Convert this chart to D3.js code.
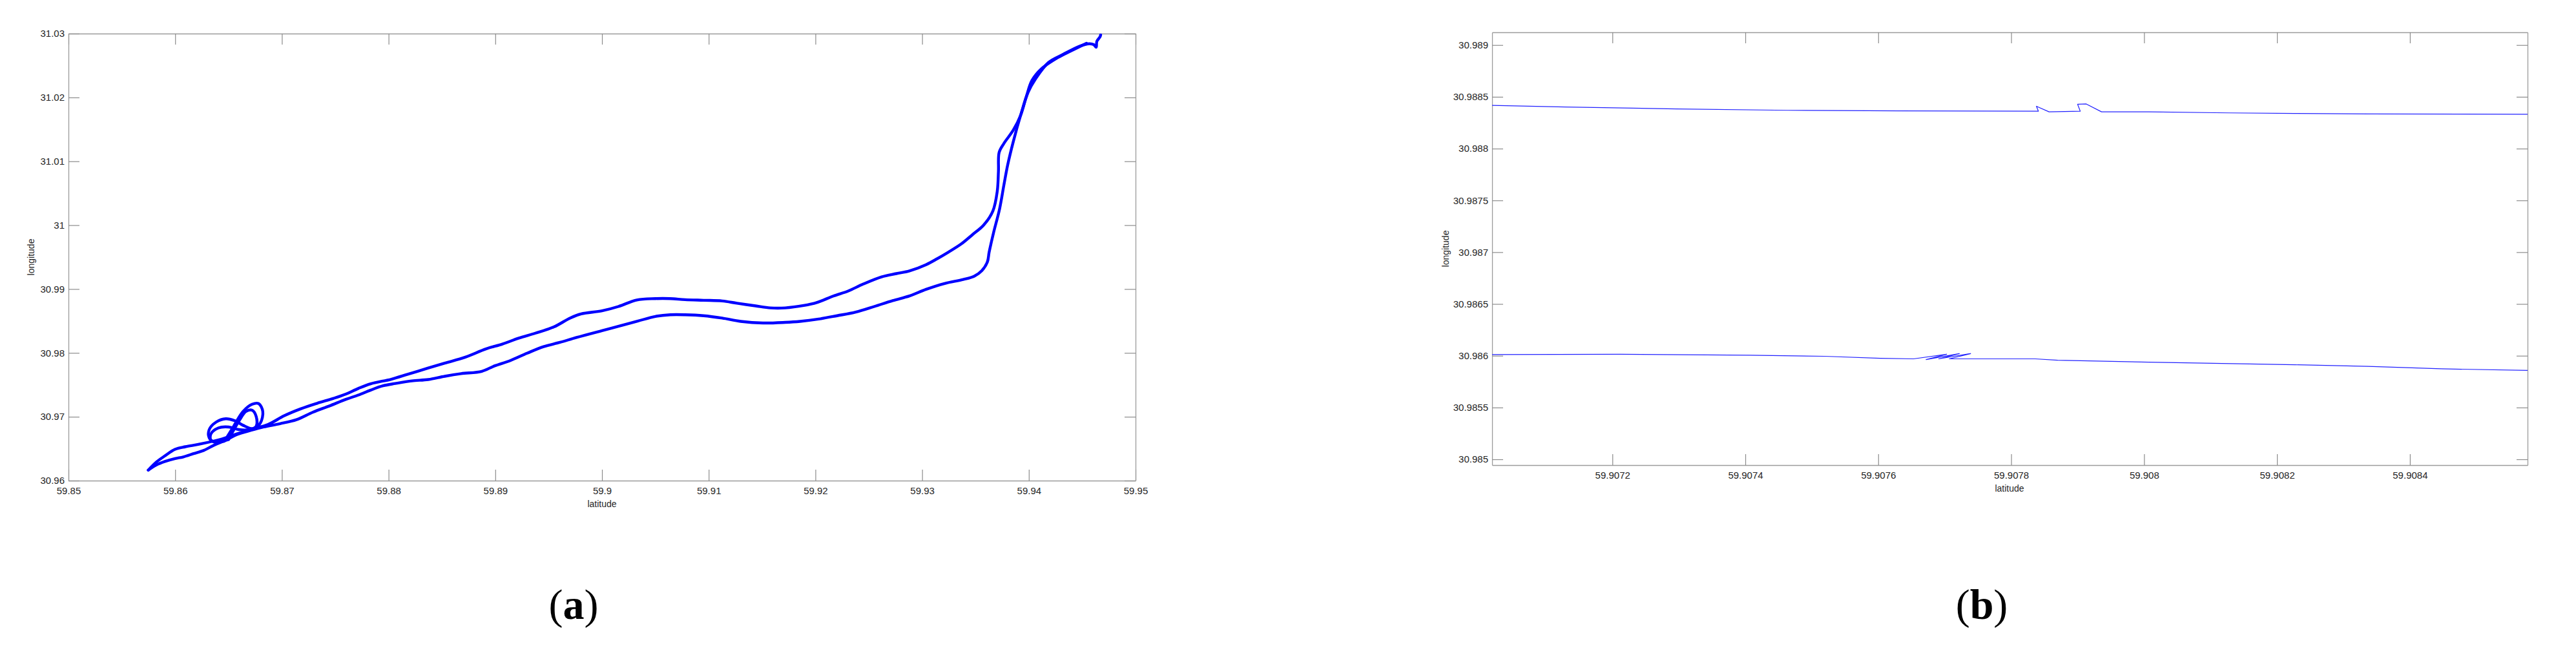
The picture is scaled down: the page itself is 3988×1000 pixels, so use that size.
<!DOCTYPE html>
<html>
<head>
<meta charset="utf-8">
<script src="https://cdn.jsdelivr.net/npm/d3@7"></script>
<style>
  body { margin: 0; background: #fff; }
  svg text { font-family: 'Liberation Sans', Arial, sans-serif; fill: #262626; }
</style>
</head>
<body>
<div id="chart"></div>
<script>
// (a) whole trip, [latitude, longitude]
const upperTrack = [
  [59.85748, 30.96165], [59.85826, 30.96294], [59.85903, 30.96387], [59.85999, 30.9649],
  [59.86096, 30.96531], [59.86231, 30.96572], [59.86443, 30.96655], [59.86578, 30.96732],
  [59.86713, 30.96804], [59.86867, 30.96876], [59.87022, 30.97016], [59.87176, 30.97124],
  [59.8733, 30.97211], [59.87485, 30.97289], [59.876, 30.97356], [59.87716, 30.97443],
  [59.87832, 30.97516], [59.88025, 30.97588], [59.88179, 30.97665], [59.88372, 30.97763],
  [59.88526, 30.9784], [59.88719, 30.97933], [59.88912, 30.98062], [59.89066, 30.98139],
  [59.89221, 30.98232], [59.89375, 30.98309], [59.89549, 30.98407], [59.89703, 30.98547],
  [59.89805, 30.9861], [59.9, 30.98659], [59.90153, 30.98726], [59.90327, 30.98829],
  [59.905, 30.9885], [59.90639, 30.9885], [59.90778, 30.98834], [59.90952, 30.98824],
  [59.91126, 30.98814], [59.91265, 30.98778], [59.91439, 30.98736], [59.91578, 30.98705],
  [59.91717, 30.98705], [59.9189, 30.98742], [59.92012, 30.98788], [59.92168, 30.98891],
  [59.92307, 30.98969], [59.92446, 30.99077], [59.9262, 30.99191], [59.92759, 30.99242],
  [59.92881, 30.99284], [59.93037, 30.99382], [59.93141, 30.99475], [59.93246, 30.99578],
  [59.93367, 30.99707], [59.93472, 30.99852], [59.93576, 31.00001], [59.93663, 31.00223],
  [59.93704, 31.00533], [59.93715, 31.00843], [59.93722, 31.01142], [59.93767, 31.01282],
  [59.93854, 31.01488], [59.93923, 31.01721], [59.93975, 31.02005], [59.94028, 31.02263],
  [59.94114, 31.02443], [59.94271, 31.02624], [59.94392, 31.02727], [59.9454, 31.02848]
]

const lowerTrack = [
  [59.85748, 30.96165], [59.85826, 30.96247], [59.85903, 30.96299], [59.85999, 30.96345],
  [59.86076, 30.96371], [59.86173, 30.96423], [59.86269, 30.96474], [59.86366, 30.96557],
  [59.86481, 30.96639], [59.86578, 30.96722], [59.86713, 30.96789], [59.86829, 30.9684],
  [59.86983, 30.96892], [59.87137, 30.96954], [59.87292, 30.97072], [59.87446, 30.9717],
  [59.876, 30.97273], [59.87716, 30.9734], [59.87832, 30.97418], [59.87948, 30.97485],
  [59.88063, 30.97521], [59.88218, 30.97562], [59.88372, 30.97583], [59.88526, 30.97634],
  [59.8868, 30.97675], [59.88873, 30.97711], [59.88989, 30.97794], [59.89143, 30.97882],
  [59.89298, 30.97995], [59.89452, 30.98098], [59.89606, 30.98165], [59.89761, 30.98242],
  [59.9, 30.98349], [59.90153, 30.98416], [59.90327, 30.98494], [59.905, 30.98571],
  [59.90639, 30.98597], [59.90778, 30.98597], [59.90952, 30.98582], [59.91126, 30.98545],
  [59.913, 30.98494], [59.91508, 30.98468], [59.91717, 30.98478], [59.91856, 30.98494],
  [59.92029, 30.9853], [59.92203, 30.98582], [59.92377, 30.98638], [59.92551, 30.98726],
  [59.92724, 30.98819], [59.92881, 30.98891], [59.93037, 30.98995], [59.93211, 30.99087],
  [59.93385, 30.99149], [59.93489, 30.99201], [59.93558, 30.99284], [59.93611, 30.99423],
  [59.93628, 30.99578], [59.9367, 30.99888], [59.93725, 31.00249], [59.93767, 31.00636],
  [59.93802, 31.00946], [59.93854, 31.01307], [59.93923, 31.01721], [59.93993, 31.02082],
  [59.94062, 31.02289], [59.94184, 31.02547], [59.94323, 31.02676], [59.94479, 31.02805],
  [59.94566, 31.02841], [59.94607, 31.02828], [59.94631, 31.02787], [59.94637, 31.02878],
  [59.94667, 31.02949], [59.94673, 31.0298]
]

// the turning loops near the start
const loopOuter = [
  [59.86462, 30.96619], [59.86539, 30.96825], [59.86636, 30.97083], [59.86721, 30.97196],
  [59.86782, 30.97206], [59.86821, 30.97083], [59.86798, 30.96902], [59.86732, 30.96814],
  [59.86636, 30.96866], [59.86559, 30.96938], [59.86474, 30.96969], [59.86385, 30.96918],
  [59.86319, 30.96799], [59.86319, 30.9667], [59.86366, 30.96603], [59.86462, 30.96619]
]

const loopInner = [
  [59.86501, 30.96644], [59.86551, 30.96799], [59.86605, 30.96954], [59.86663, 30.97083],
  [59.86721, 30.97103], [59.86759, 30.97005], [59.86759, 30.96851], [59.86694, 30.96799],
  [59.86597, 30.96799], [59.86501, 30.9684], [59.86404, 30.96825], [59.86335, 30.96732],
  [59.86335, 30.96634], [59.86404, 30.96608], [59.86501, 30.96644]
]

// (b) close-up of both passes
const upperZoom = [
  [59.907019, 30.988418], [59.907129, 30.988402], [59.907296, 30.988383], [59.907463, 30.98837],
  [59.90763, 30.988364], [59.907841, 30.988361], [59.907838, 30.988409], [59.907857, 30.988355],
  [59.907904, 30.988361], [59.9079, 30.988428], [59.907913, 30.988431], [59.907936, 30.988355],
  [59.908007, 30.988355], [59.908128, 30.988345], [59.908227, 30.988339], [59.908337, 30.988335],
  [59.908577, 30.988332]
]

const lowerZoom = [
  [59.907019, 30.986011], [59.907212, 30.986014], [59.907407, 30.986005], [59.907519, 30.985995],
  [59.907603, 30.985976], [59.907653, 30.98597], [59.907703, 30.986014], [59.907672, 30.985963],
  [59.907722, 30.986021], [59.907691, 30.98597], [59.907739, 30.986021], [59.907707, 30.98597],
  [59.907836, 30.98597], [59.90787, 30.985957], [59.908007, 30.985938], [59.908117, 30.985925],
  [59.908227, 30.985913], [59.908337, 30.985897], [59.908447, 30.985874], [59.908577, 30.985858]
]

const latTicksA = [59.85, 59.86, 59.87, 59.88, 59.89, 59.9, 59.91, 59.92, 59.93, 59.94, 59.95]
const lonTicksA = [30.96, 30.97, 30.98, 30.99, 31, 31.01, 31.02, 31.03]
const latTicksB = [59.9072, 59.9074, 59.9076, 59.9078, 59.908, 59.9082, 59.9084]
const lonTicksB = [30.985, 30.9855, 30.986, 30.9865, 30.987, 30.9875, 30.988, 30.9885, 30.989]

const latLimitsA = [59.85, 59.95]
const lonLimitsA = [30.96, 31.03]
const latLimitsB = [59.907019, 59.908577]
const lonLimitsB = [30.984944, 30.989123]

const svg = d3
  .select('#chart')
  .append('svg')
  .attr('width', 3988)
  .attr('height', 1000)
  .style('display', 'block')

svg.append('rect').attr('width', 3988).attr('height', 1000).attr('fill', '#fff')

const fmt = d => String(+d.toFixed(4))

function drawPanel(params) {
  const { box, xDomain, yDomain, xTicks, yTicks, tracks, stroke, width, curve, id } = params

  const x = d3.scaleLinear().domain(xDomain).range([box.left, box.right])
  const y = d3.scaleLinear().domain(yDomain).range([box.bottom, box.top])

  const g = svg.append('g')

  svg
    .append('clipPath')
    .attr('id', id)
    .append('rect')
    .attr('x', box.left)
    .attr('y', box.top)
    .attr('width', box.right - box.left)
    .attr('height', box.bottom - box.top)

  const tick = 17
  const styleAxis = sel => {
    sel.select('.domain').attr('stroke', '#9a9a9a').attr('stroke-width', 1.3)
    sel.selectAll('.tick line').attr('stroke', '#8c8c8c').attr('stroke-width', 1.2)
    sel.selectAll('.tick text').attr('font-size', 15).attr('fill', '#262626')
    sel.attr('font-family', null)
  }

  g.append('g')
    .attr('transform', `translate(0,${box.bottom})`)
    .call(d3.axisBottom(x).tickValues(xTicks).tickFormat(fmt).tickSizeInner(-tick).tickSizeOuter(0).tickPadding(10))
    .call(styleAxis)
  g.append('g')
    .attr('transform', `translate(0,${box.top})`)
    .call(d3.axisTop(x).tickValues(xTicks).tickFormat('').tickSizeInner(-tick).tickSizeOuter(0))
    .call(styleAxis)
  g.append('g')
    .attr('transform', `translate(${box.left},0)`)
    .call(d3.axisLeft(y).tickValues(yTicks).tickFormat(fmt).tickSizeInner(-tick).tickSizeOuter(0).tickPadding(6))
    .call(styleAxis)
  g.append('g')
    .attr('transform', `translate(${box.right},0)`)
    .call(d3.axisRight(y).tickValues(yTicks).tickFormat('').tickSizeInner(-tick).tickSizeOuter(0))
    .call(styleAxis)

  const line = d3
    .line()
    .x(d => x(d[0]))
    .y(d => y(d[1]))
    .curve(curve)

  g.append('g')
    .attr('clip-path', `url(#${id})`)
    .selectAll('path')
    .data(tracks)
    .join('path')
    .attr('d', line)
    .attr('fill', 'none')
    .attr('stroke', stroke)
    .attr('stroke-width', width)
    .attr('stroke-linejoin', 'round')
    .attr('stroke-linecap', 'round')

  return { x, y }
}

drawPanel({
  id: 'clipA',
  box: { left: 106, right: 1758, top: 52, bottom: 744 },
  xDomain: latLimitsA,
  yDomain: lonLimitsA,
  xTicks: latTicksA,
  yTicks: lonTicksA,
  tracks: [upperTrack, lowerTrack, loopOuter, loopInner],
  stroke: '#0000ff',
  width: 4.4,
  curve: d3.curveCatmullRom.alpha(0.5)
})

drawPanel({
  id: 'clipB',
  box: { left: 2310, right: 3913, top: 50, bottom: 720 },
  xDomain: latLimitsB,
  yDomain: lonLimitsB,
  xTicks: latTicksB,
  yTicks: lonTicksB,
  tracks: [upperZoom, lowerZoom],
  stroke: '#2222ff',
  width: 1.2,
  curve: d3.curveLinear
})

// axis titles
svg.append('text').text('latitude').attr('x', 932).attr('y', 785).attr('text-anchor', 'middle').attr('font-size', 14)
svg.append('text').text('longitude').attr('text-anchor', 'middle').attr('font-size', 14)
  .attr('transform', 'translate(53,398) rotate(-90)')
svg.append('text').text('latitude').attr('x', 3111).attr('y', 761).attr('text-anchor', 'middle').attr('font-size', 14)
svg.append('text').text('longitude').attr('text-anchor', 'middle').attr('font-size', 14)
  .attr('transform', 'translate(2243,385) rotate(-90)')

// panel captions
function caption(label, cx) {
  const t = svg
    .append('text')
    .attr('x', cx)
    .attr('y', 958)
    .attr('text-anchor', 'middle')
    .attr('font-size', 66)
    .style('font-family', "'Liberation Serif', 'DejaVu Serif', serif")
    .style('fill', '#000')
  t.append('tspan').text('(')
  t.append('tspan').text(label).attr('font-weight', 'bold')
  t.append('tspan').text(')')
}
caption('a', 888)
caption('b', 3068)
</script>
</body>
</html>
